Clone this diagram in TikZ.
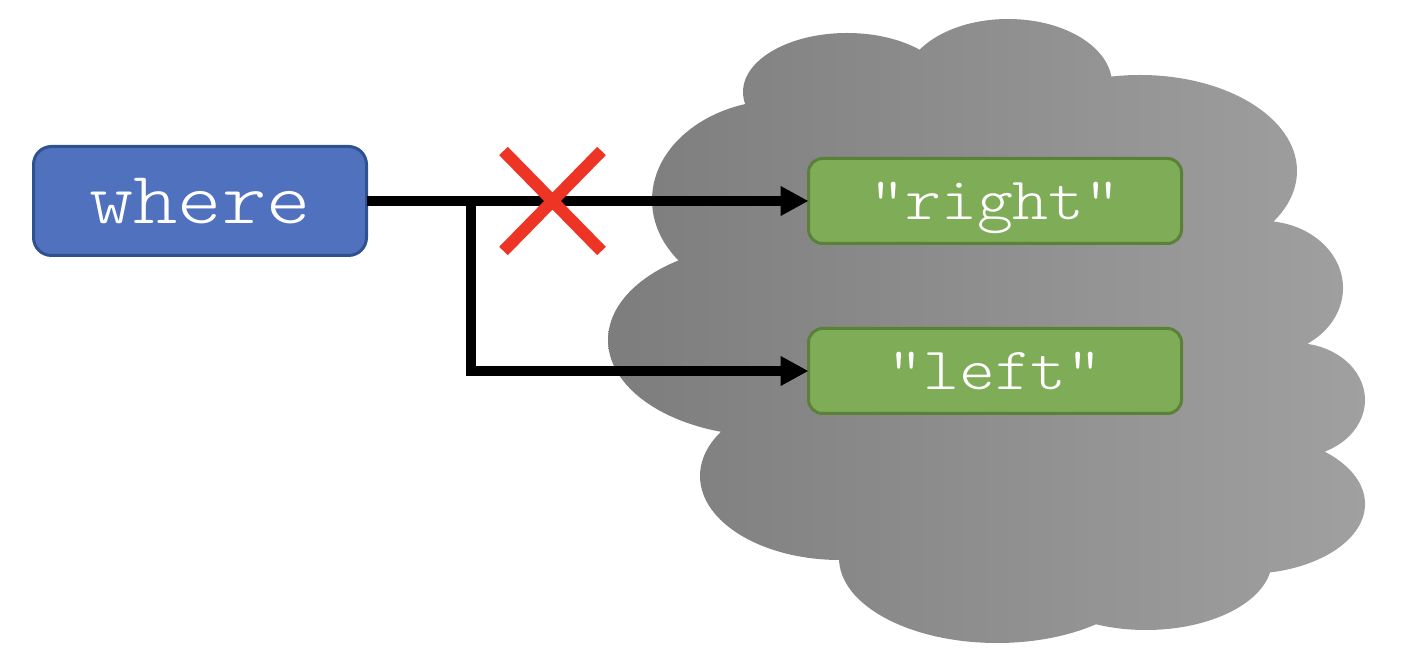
\documentclass[tikz,border=0pt]{standalone}
\usepackage{fontspec}
\newfontfamily\codefont{lmmonolt10-regular.otf}[FakeStretch=1.14]
\usetikzlibrary{positioning}
\usetikzlibrary{arrows.meta}
\usetikzlibrary{shapes.misc}
\definecolor{wherefill}{HTML}{4F71BE}
\definecolor{whereline}{HTML}{2F528F}
\definecolor{valfill}{HTML}{7FAC57}
\definecolor{valline}{HTML}{5B8139}
\definecolor{cloudleft}{HTML}{7D7D7D}
\definecolor{cloudright}{HTML}{A0A0A0}
\definecolor{crossred}{HTML}{EE3424}

\begin{document}
\begin{tikzpicture}
[
x=1pt, y=1pt,
node distance=85pt and 85pt,
>={Triangle[length=28pt,width=28pt]},
box/.style={outer sep=0pt, line width=3pt, draw, text=white, align=center, text depth=0pt},
keybox/.style={box, minimum width=333pt, minimum height=109pt, rounded corners=18pt, fill=wherefill, draw=whereline, font=\codefont\fontsize{74}{80}\selectfont, text height=46pt},
valbox/.style={box, minimum width=373pt, minimum height=85pt, rounded corners=14pt, fill=valfill, draw=valline, font=\codefont\fontsize{60}{66}\selectfont, text height=37pt},
link/.style={line width=10pt},
cloudshade/.style={left color=cloudleft, right color=cloudright},
]
\useasboundingbox (0,0) rectangle (1404,666);

\shade [cloudshade] \foreach \cx/\cy/\rx/\ry in
{847/574/104/59, 1008/582/104/65, 1140/495/157/96, 1263/378/80/67,
1295/266/70/57, 1245/162/120/70, 1146/106/126/70, 997/108/158/85,
840/190/140/84, 768/326/160/96, 782/466/130/100, 1000/326/300/230}
{ (\cx,\cy) ellipse [x radius=\rx pt, y radius=\ry pt] };

\node (where) [keybox] at (200,465) {where};
\node (rightval) [valbox] at (995,465) {"right"};
\node (leftval) [valbox, below=of rightval] {"left"};
\coordinate [right=104pt of where.east] (split);

\draw [link, ->] (where.east) -- (rightval.west);
\draw [link, ->] (split) |- (leftval.west);

\node (cut) [cross out, draw=crossred, line width=12pt, outer sep=0pt, minimum width=98pt, minimum height=100pt, inner sep=0pt] at (552.5,465) {};
\end{tikzpicture}
\end{document}
